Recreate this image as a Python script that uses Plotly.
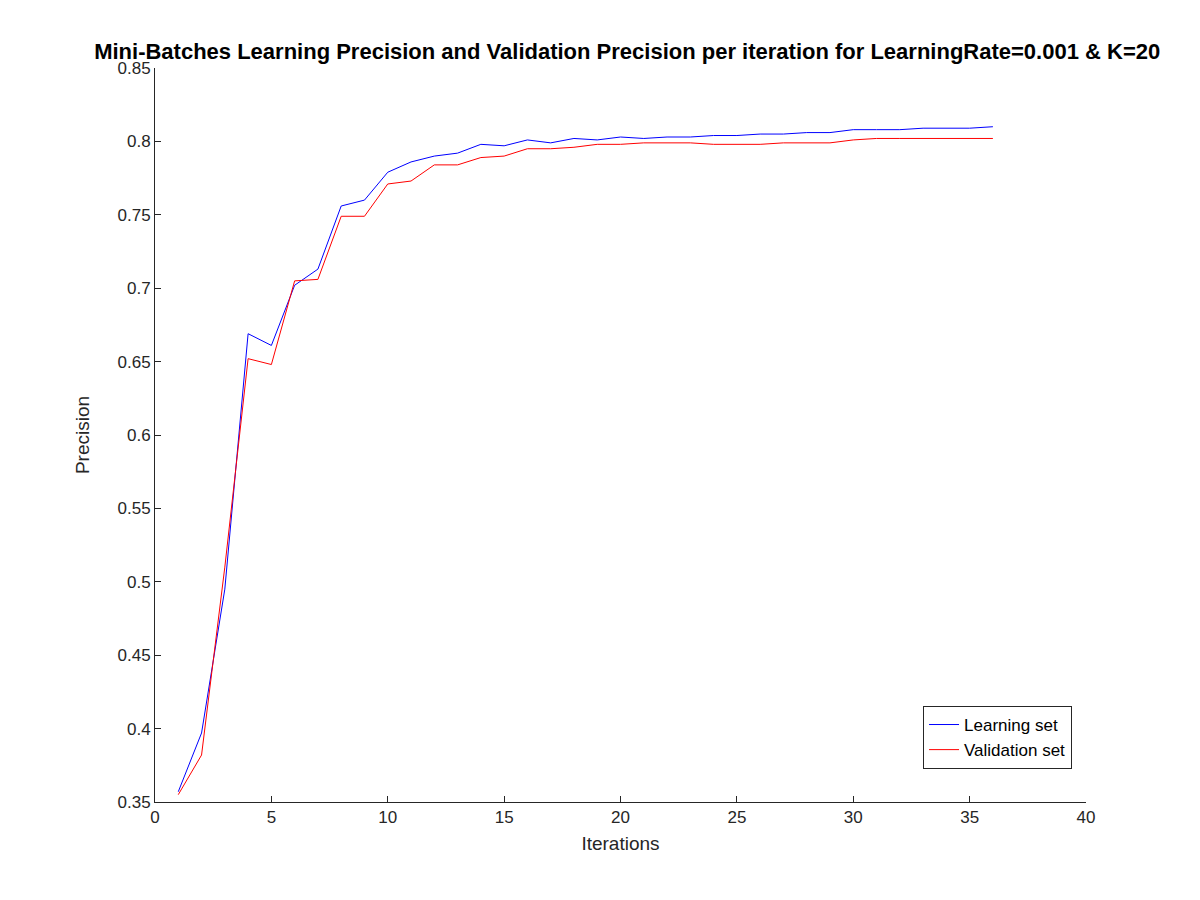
import plotly.graph_objects as go

iterations = list(range(1, 37))
learning = [0.357, 0.397, 0.495, 0.669, 0.661, 0.702, 0.713, 0.756, 0.760, 0.779,
            0.786, 0.790, 0.792, 0.798, 0.797, 0.801, 0.799, 0.802, 0.801, 0.803,
            0.802, 0.803, 0.803, 0.804, 0.804, 0.805, 0.805, 0.806, 0.806, 0.808,
            0.808, 0.808, 0.809, 0.809, 0.809, 0.810]
validation = [0.355, 0.382, 0.510, 0.652, 0.648, 0.705, 0.706, 0.749, 0.749, 0.771,
              0.773, 0.784, 0.784, 0.789, 0.790, 0.795, 0.795, 0.796, 0.798, 0.798,
              0.799, 0.799, 0.799, 0.798, 0.798, 0.798, 0.799, 0.799, 0.799, 0.801,
              0.802, 0.802, 0.802, 0.802, 0.802, 0.802]

fig = go.Figure()
fig.add_trace(go.Scatter(x=iterations, y=learning, mode="lines", name="Learning set",
                         line=dict(color="blue", width=1)))
fig.add_trace(go.Scatter(x=iterations, y=validation, mode="lines", name="Validation set",
                         line=dict(color="red", width=1)))

axis = dict(showgrid=False, zeroline=False, showline=True, linecolor="#262626",
            linewidth=1, ticks="inside", ticklen=6, tickcolor="#262626",
            tickfont=dict(size=17, color="#262626"), mirror=False)

fig.update_layout(
    width=1200, height=900,
    paper_bgcolor="white", plot_bgcolor="white",
    font=dict(family="Arial, Liberation Sans", color="#262626"),
    margin=dict(l=147, r=122, t=60, b=106),
    title=dict(text="<b>Mini-Batches Learning Precision and Validation Precision per iteration for LearningRate=0.001 & K=20</b>",
               x=0.516, xanchor="center", y=0.952, yanchor="middle", font=dict(size=22, color="black")),
    xaxis=dict(axis, range=[0, 40], dtick=5,
               title=dict(text="Iterations", font=dict(size=19), standoff=10)),
    yaxis=dict(axis, range=[0.35, 0.85], dtick=0.05, tickformat=".2~f",
               title=dict(text="Precision", font=dict(size=19), standoff=22)),
    legend=dict(x=0.985, y=0.045, xanchor="right", yanchor="bottom",
                bordercolor="#262626", borderwidth=1, bgcolor="white",
                font=dict(size=17, color="black")),
)

fig.write_html("out.html")
